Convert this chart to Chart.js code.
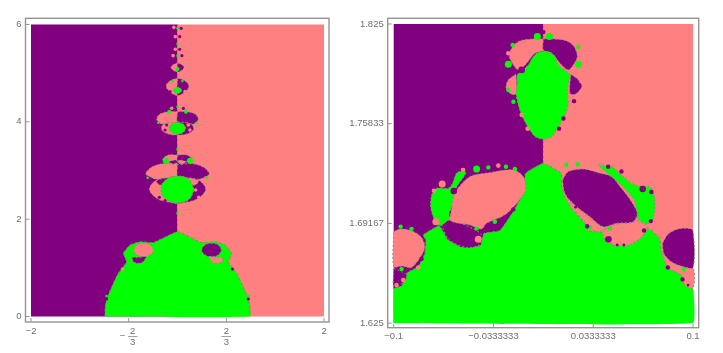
<!DOCTYPE html>
<html>
<head>
<meta charset="utf-8">
<script src="https://cdn.jsdelivr.net/npm/chart.js"></script>
<style>
    body { margin: 0; padding: 0; background: #fff; width: 723px; height: 353px; overflow: hidden; position: relative; }
    .box { position: absolute; top: 0; height: 353px; }
    canvas { filter: blur(0.35px); }
</style>
</head>
<body>
<div class="box" style="left:0;width:340px"><canvas id="leftChart"></canvas></div>
<div class="box" style="left:340px;width:383px"><canvas id="rightChart"></canvas></div>
<script>
// Colours of the three regions
const PURPLE = '#800080';
const PINK = '#ff8080';
const GREEN = '#00ff00';
const EDGE = '#8f8f78';

// Tick labels
const leftXTicks = [-2, -2 / 3, 2 / 3, 2];
const leftXLabels = ['\u22122', ['   2', '\u2212 \u2015', '   3'], ['2', '\u2015', '3'], '2'];
const leftYTicks = [0, 2, 4, 6];
const leftYLabels = ['0', '2', '4', '6'];
const rightXTicks = [-0.1, -0.0333333, 0.0333333, 0.1];
const rightXLabels = ['\u22120.1', '\u22120.0333333', '0.0333333', '0.1'];
const rightYTicks = [1.625, 1.69167, 1.75833, 1.825];
const rightYLabels = ['1.625', '1.69167', '1.75833', '1.825'];

// Left panel regions
const leftPurpleBack = [[-2, 0], [0, 0], [0, 6], [-2, 6]];
const leftPinkBack = [[0, 0], [2, 0], [2, 6], [0, 6]];
const leftCentreLine = [[0, 0], [0, 6]];
const leftBody = [[-0.99, 0], [-0.985, 0.236], [-0.945, 0.44], [-0.876, 0.68], [-0.808, 0.887], [-0.74, 1.02], [-0.694, 1.126], [-0.74, 1.3], [-0.648, 1.47], [-0.512, 1.537], [-0.33, 1.516], [0, 1.74], [0.33, 1.516], [0.512, 1.537], [0.648, 1.47], [0.74, 1.3], [0.694, 1.126], [0.74, 1.02], [0.808, 0.887], [0.876, 0.68], [0.945, 0.44], [0.985, 0.236], [0.99, 0]];
const leftBulbPink = [[-0.603, 1.366], [-0.557, 1.469], [-0.467, 1.504], [-0.375, 1.469], [-0.33, 1.366], [-0.375, 1.264], [-0.467, 1.229], [-0.557, 1.264]];
const leftBulbPurple = [[0.603, 1.366], [0.557, 1.469], [0.467, 1.504], [0.375, 1.469], [0.33, 1.366], [0.375, 1.264], [0.467, 1.229], [0.557, 1.264]];
const leftCrescentPurple = [[-0.625, 1.216], [-0.535, 1.216], [-0.43, 1.229], [-0.467, 1.126], [-0.535, 1.093], [-0.603, 1.126]];
const leftCrescentPink = [[0.625, 1.216], [0.535, 1.216], [0.43, 1.229], [0.467, 1.126], [0.535, 1.093], [0.603, 1.126]];
const g1LobePink = [[0, 3.133], [-0.147, 3.148], [-0.284, 3.113], [-0.375, 3.045], [-0.434, 2.928], [-0.375, 2.872], [-0.307, 2.825], [-0.171, 2.825], [-0.08, 2.872], [0, 2.887]];
const g1LobePurple = [[0, 3.133], [0.147, 3.148], [0.284, 3.113], [0.375, 3.045], [0.434, 2.928], [0.375, 2.872], [0.307, 2.825], [0.171, 2.825], [0.08, 2.872], [0, 2.887]];
const g1RingPink = [[0, 2.872], [-0.262, 2.819], [-0.352, 2.722], [-0.385, 2.613], [-0.339, 2.496], [-0.239, 2.394], [-0.102, 2.346], [0, 2.338]];
const g1RingPurple = [[0, 2.872], [0.262, 2.819], [0.352, 2.722], [0.385, 2.613], [0.339, 2.496], [0.239, 2.394], [0.102, 2.346], [0, 2.338]];
const g1BandPurple = [[-0.294, 2.79], [-0.194, 2.84], [-0.079, 2.84], [-0.126, 2.77], [-0.216, 2.7], [-0.262, 2.722]];
const g1BandPink = [[0.294, 2.79], [0.194, 2.84], [0.079, 2.84], [0.126, 2.77], [0.216, 2.7], [0.262, 2.722]];
const g1Ellipse = [[0.228, 2.61], [0.16, 2.81], [0, 2.885], [-0.16, 2.81], [-0.228, 2.61], [-0.16, 2.41], [0, 2.335], [0.16, 2.41]];
const g1CapPink = [[0, 3.318], [-0.126, 3.318], [-0.202, 3.23], [-0.147, 3.148], [0, 3.133]];
const g1CapPurple = [[0, 3.318], [0.126, 3.318], [0.202, 3.23], [0.147, 3.148], [0, 3.133]];
const g1CapInnerPurple = [[-0.126, 3.18], [-0.034, 3.216], [0, 3.18], [-0.057, 3.133]];
const g1CapInnerPink = [[0.126, 3.18], [0.034, 3.216], [0, 3.18], [0.057, 3.133]];
const g2LobePink = [[0, 4.208], [-0.126, 4.208], [-0.239, 4.16], [-0.284, 4.05], [-0.216, 3.955], [-0.126, 3.982], [0, 4.0]];
const g2LobePurple = [[0, 4.208], [0.126, 4.208], [0.239, 4.16], [0.284, 4.05], [0.216, 3.955], [0.126, 3.982], [0, 4.0]];
const g2RingPink = [[0, 4.0], [-0.126, 3.98], [-0.202, 3.935], [-0.216, 3.832], [-0.126, 3.75], [0, 3.743]];
const g2RingPurple = [[0, 4.0], [0.126, 3.98], [0.202, 3.935], [0.216, 3.832], [0.126, 3.75], [0, 3.743]];
const g2Ellipse = [[0.114, 3.867], [0.08, 3.95], [0, 3.987], [-0.08, 3.95], [-0.114, 3.867], [-0.08, 3.785], [0, 3.747], [0.08, 3.785]];
const g3LobePink = [[0, 4.894], [-0.08, 4.86], [-0.147, 4.777], [-0.147, 4.689], [-0.08, 4.586], [0, 4.55]];
const g3LobePurple = [[0, 4.894], [0.08, 4.86], [0.147, 4.777], [0.147, 4.689], [0.08, 4.586], [0, 4.55]];
const g3Ellipse = [[0.055, 4.648], [0.04, 4.69], [0, 4.71], [-0.04, 4.69], [-0.055, 4.648], [-0.04, 4.605], [0, 4.586], [0.04, 4.605]];
const g4LobePink = [[0, 5.215], [-0.066, 5.168], [-0.089, 5.112], [-0.048, 5.05], [0, 5.03]];
const g4LobePurple = [[0, 5.215], [0.066, 5.168], [0.089, 5.112], [0.048, 5.05], [0, 5.03]];

// Left panel small beads
const leftGreenBig = [[-0.161, 3.2], [0.171, 3.2]];
const leftGreenMid = [[-0.112, 4.208], [0.116, 4.208], [0, 5.085]];
const leftGreenSmall = [[-0.407, 2.852], [0.407, 2.852], [0, 3.435], [0, 2.12], [-0.262, 3.98], [0.262, 3.98], [-0.066, 4.84], [0.066, 4.84], [0, 5.92], [0, 5.36], [0, 4.31], [0, 5.6], [-0.97, 0.42], [0.97, 0.42]];
const leftPinkDots = [[-0.75, 0.975], [-0.08, 4.278], [-0.06, 5.36], [-0.03, 5.49], [-0.03, 5.75], [-0.05, 5.94], [0.102, 4.62], [0.147, 3.935], [0.17, 3.832], [0.248, 2.6], [0.29, 2.45]];
const leftPurpleDots = [[0.75, 0.975], [0.967, 0.36], [-0.967, 0.36], [0.08, 4.278], [0.06, 5.36], [0.03, 5.49], [0.03, 5.75], [0.05, 5.92], [-0.102, 4.62], [-0.147, 3.935], [-0.17, 3.832], [-0.248, 2.449], [-0.17, 2.38]];

// Right panel regions
const rightPurpleBack = [[-0.1, 1.625], [0, 1.625], [0, 1.825], [-0.1, 1.825]];
const rightPinkBack = [[0, 1.625], [0.1, 1.625], [0.1, 1.825], [0, 1.825]];
const rightCentreLine = [[0, 1.7318], [0, 1.825]];
const appleBody = [[0, 1.807], [0.00445, 1.8061], [0.0078, 1.8032], [0.01, 1.7976], [0.0178, 1.7909], [0.0167, 1.7853], [0.016, 1.7786], [0.0167, 1.772], [0.0145, 1.7641], [0.01, 1.7563], [0.0056, 1.7497], [0, 1.7479], [-0.0056, 1.7497], [-0.0111, 1.7575], [-0.0145, 1.7641], [-0.0167, 1.7708], [-0.0183, 1.7786], [-0.0174, 1.7853], [-0.0174, 1.7909], [-0.01, 1.7976], [-0.0067, 1.8032], [-0.0033, 1.8061]];
const appleTopPink = [[0, 1.815], [-0.0067, 1.815], [-0.0156, 1.8137], [-0.0205, 1.8099], [-0.0227, 1.8032], [-0.02, 1.7976], [-0.0167, 1.7943], [-0.0122, 1.7976], [-0.0056, 1.8054], [0, 1.8076]];
const appleTopPurple = [[0, 1.815], [0.0067, 1.815], [0.0156, 1.8137], [0.0205, 1.8099], [0.0227, 1.8032], [0.02, 1.7976], [0.0167, 1.7943], [0.0122, 1.7976], [0.0056, 1.8054], [0, 1.8076]];
const appleSidePink = [[-0.0183, 1.7914], [-0.0234, 1.7876], [-0.0249, 1.782], [-0.0212, 1.778], [-0.0178, 1.7786]];
const appleSidePurple = [[0.0183, 1.7914], [0.0234, 1.7876], [0.0249, 1.782], [0.0212, 1.778], [0.0178, 1.7786]];
const mainGreen = [[-0.1, 1.625], [-0.1, 1.6482], [-0.0947, 1.6498], [-0.091, 1.6587], [-0.0836, 1.6627], [-0.0792, 1.6716], [-0.0785, 1.6805], [-0.0803, 1.6839], [-0.0696, 1.6901], [-0.0636, 1.6805], [-0.0558, 1.6761], [-0.0491, 1.6754], [-0.0417, 1.6772], [-0.0397, 1.685], [-0.0291, 1.6868], [-0.0201, 1.6995], [-0.0134, 1.7118], [-0.0119, 1.7251], [0, 1.7318], [0.0121, 1.7251], [0.0121, 1.7184], [0.0137, 1.7106], [0.0188, 1.7017], [0.0277, 1.6917], [0.0299, 1.6868], [0.04, 1.6854], [0.0411, 1.6805], [0.0478, 1.6765], [0.0567, 1.6783], [0.0645, 1.6845], [0.07, 1.6883], [0.0778, 1.6816], [0.0789, 1.6716], [0.0834, 1.6622], [0.0923, 1.6571], [0.0939, 1.6511], [0.1, 1.6482], [0.1, 1.625]];
const leftLobeGreen = [[-0.0747, 1.7106], [-0.0714, 1.7151], [-0.0636, 1.7151], [-0.0607, 1.7184], [-0.0576, 1.7256], [-0.0518, 1.7256], [-0.0584, 1.7151], [-0.0598, 1.7062], [-0.0629, 1.6984], [-0.0629, 1.6935], [-0.0691, 1.6901], [-0.0736, 1.6961], [-0.0754, 1.7039]];
const edgePink = [[-0.1, 1.6861], [-0.0954, 1.6879], [-0.0881, 1.6868], [-0.0814, 1.6823], [-0.0792, 1.6756], [-0.082, 1.6694], [-0.0881, 1.6622], [-0.0947, 1.6631], [-0.1, 1.6627]];
const edgePurple = [[-0.1, 1.6616], [-0.0947, 1.6593], [-0.0914, 1.6571], [-0.0925, 1.6533], [-0.097, 1.6498], [-0.1, 1.6482]];
const lowerPurple = [[-0.068, 1.6901], [-0.0624, 1.6939], [-0.0446, 1.6868], [-0.0408, 1.6828], [-0.0431, 1.6772], [-0.0502, 1.6754], [-0.0569, 1.6772], [-0.0636, 1.6816]];
const bigPink = [[-0.062, 1.6973], [-0.0591, 1.7118], [-0.0491, 1.7229], [-0.0357, 1.7256], [-0.0201, 1.7274], [-0.0134, 1.7229], [-0.0119, 1.714], [-0.0168, 1.7062], [-0.0257, 1.6973], [-0.038, 1.6917], [-0.0413, 1.6879], [-0.0491, 1.6906], [-0.0591, 1.6923], [-0.0629, 1.6943]];
const bigPurple = [[0.0128, 1.7207], [0.0166, 1.7262], [0.0266, 1.728], [0.0366, 1.7256], [0.0455, 1.7229], [0.0522, 1.7151], [0.0589, 1.7062], [0.0627, 1.6984], [0.06, 1.6928], [0.0489, 1.6917], [0.04, 1.6894], [0.0311, 1.6961], [0.021, 1.7039], [0.0144, 1.7118]];
const rightLobeGreen = [[0.0366, 1.7307], [0.0455, 1.7296], [0.0533, 1.7229], [0.0611, 1.7173], [0.0723, 1.7151], [0.0745, 1.7051], [0.0734, 1.695], [0.07, 1.6912], [0.0633, 1.695], [0.0611, 1.7062], [0.0533, 1.7162], [0.0455, 1.7229]];
const lowerPink = [[0.0627, 1.6935], [0.0694, 1.6894], [0.0656, 1.6823], [0.0567, 1.6772], [0.0478, 1.6772], [0.0415, 1.681], [0.04, 1.6861], [0.0478, 1.6906], [0.0589, 1.6921]];
const stripPink = [[0.0137, 1.7129], [0.021, 1.701], [0.0284, 1.6917], [0.0355, 1.6861], [0.0411, 1.6883], [0.0311, 1.6944], [0.0199, 1.7051]];
const sidePurple = [[0.0796, 1.6783], [0.0834, 1.6845], [0.0901, 1.6879], [0.0967, 1.6883], [0.1, 1.6868], [0.1, 1.6622], [0.0923, 1.6631], [0.0856, 1.666], [0.0805, 1.6716]];
const sidePink = [[0.0796, 1.6716], [0.0834, 1.6622], [0.0923, 1.6571], [0.0939, 1.6511], [0.1, 1.6482], [0.1, 1.6622], [0.0923, 1.6631], [0.0856, 1.666]];

// Right panel beads, grouped by size
const rightGreenBig = [[-0.0234, 1.798], [0.0234, 1.798], [-0.004, 1.8166], [0.004, 1.8166], [-0.0446, 1.728]];
const rightGreenMid = [[-0.0368, 1.7291], [-0.025, 1.7296], [-0.019, 1.728], [-0.0446, 1.6883], [0.0444, 1.6883], [-0.0947, 1.6611], [0.0941, 1.6611], [-0.02, 1.773], [-0.0234, 1.7809], [0.0154, 1.7307], [0.0232, 1.7312], [0.0311, 1.689], [-0.0324, 1.6928], [-0.0954, 1.6895], [-0.0881, 1.688], [0.0234, 1.8095], [-0.0205, 1.811]];
const rightPinkBig = [[-0.0676, 1.718], [-0.0435, 1.681], [-0.0718, 1.6928]];
const rightPinkMid = [[-0.0536, 1.7274], [-0.0301, 1.7303], [-0.0731, 1.7135], [-0.0936, 1.6538], [-0.0234, 1.8054], [-0.0145, 1.7641], [-0.0105, 1.755], [-0.0981, 1.6504], [-0.0836, 1.6622]];
const rightPurpleBig = [[-0.0598, 1.7133], [0.0664, 1.7147], [0.0435, 1.681], [-0.0145, 1.7943], [0.0234, 1.7835]];
const rightPurpleMid = [[-0.0201, 1.701], [-0.0257, 1.6957], [-0.0313, 1.6883], [0.0433, 1.7296], [0.0522, 1.7264], [0.0722, 1.7126], [0.0718, 1.6932], [0.0673, 1.6869], [0, 1.8196], [0.0293, 1.6897], [0.093, 1.6542], [0.0832, 1.6622], [0.0205, 1.7734], [0.0135, 1.7618], [0.0105, 1.755], [-0.0814, 1.6678]];
const rightPurpleSmall = [[0.0215, 1.7025], [0.0172, 1.7091], [0.0146, 1.7146], [0.0493, 1.6772], [0.0538, 1.6772], [0.0967, 1.6504]];

// Turns [x, y] pairs into a closed filled shape
function shape(points, color, smooth = 0.3) {
    const closed = points.concat([points[0]]);
    return {
        data: closed.map(p => ({ x: p[0], y: p[1] })),
        showLine: true,
        fill: 'shape',
        backgroundColor: color,
        borderColor: EDGE,
        borderWidth: 1,
        borderDash: [2, 2],
        pointRadius: 0,
        tension: smooth
    };
}

// Filled shape with no outline
function flat(points, color, smooth = 0) {
    const dataset = shape(points, color, smooth);
    dataset.borderWidth = 0;
    return dataset;
}

// Open dashed line along a boundary
function line(points, smooth = 0) {
    return {
        data: points.map(p => ({ x: p[0], y: p[1] })),
        showLine: true,
        fill: false,
        borderColor: '#7d8f68',
        borderWidth: 1,
        borderDash: [3, 2],
        pointRadius: 0,
        tension: smooth
    };
}

function dots(points, color, radius) {
    return {
        data: points.map(p => ({ x: p[0], y: p[1] })),
        showLine: false,
        backgroundColor: color,
        borderWidth: 0,
        pointRadius: radius
    };
}

// Frame and inward ticks like the original plot
const framePlugin = {
    id: 'frame',
    afterDatasetsDraw(chart) {
        const { ctx, chartArea, scales } = chart;
        ctx.save();
        ctx.strokeStyle = '#949494';
        ctx.lineWidth = 1.4;
        ctx.strokeRect(chartArea.left, chartArea.top, chartArea.right - chartArea.left, chartArea.bottom - chartArea.top);
        ctx.lineWidth = 1;
        ctx.beginPath();
        scales.x.ticks.forEach(tick => {
            const px = scales.x.getPixelForValue(tick.value);
            ctx.moveTo(px, chartArea.bottom);
            ctx.lineTo(px, chartArea.bottom - 4);
        });
        scales.y.ticks.forEach(tick => {
            const py = scales.y.getPixelForValue(tick.value);
            ctx.moveTo(chartArea.left, py);
            ctx.lineTo(chartArea.left + 4, py);
        });
        ctx.stroke();
        ctx.restore();
    }
};

function axis(min, max, values, labels, fitKey, fitSize, pad) {
    return {
        type: 'linear',
        min: min,
        max: max,
        grid: { display: false, drawTicks: false },
        border: { display: false },
        afterBuildTicks: scale => { scale.ticks = values.map(value => ({ value: value })); },
        afterFit: scale => { scale[fitKey] = fitSize; },
        ticks: {
            autoSkip: false,
            maxRotation: 0,
            padding: pad,
            color: '#6e6e6e',
            font: { family: 'Liberation Sans', size: 9.5, lineHeight: 0.62 },
            callback: (value, index) => labels[index]
        }
    };
}

function makeChart(id, layers, x, y, padding) {
    // Later entries sit on top
    layers.forEach((dataset, i) => { dataset.order = layers.length - i; });
    return new Chart(document.getElementById(id).getContext('2d'), {
        type: 'scatter',
        data: { datasets: layers },
        options: {
            responsive: true,
            maintainAspectRatio: false,
            animation: false,
            layout: { padding: padding },
            plugins: { legend: { display: false }, tooltip: { enabled: false } },
            scales: { x: x, y: y }
        },
        plugins: [framePlugin]
    });
}

makeChart('leftChart', [
    flat(leftPurpleBack, PURPLE), flat(leftPinkBack, PINK), line(leftCentreLine),
    shape(g1LobePink, PINK), shape(g1LobePurple, PURPLE), shape(g1RingPink, PINK), shape(g1RingPurple, PURPLE),
    shape(g1BandPurple, PURPLE), shape(g1BandPink, PINK), shape(g1Ellipse, GREEN, 0.4),
    shape(g1CapPink, PINK), shape(g1CapPurple, PURPLE), shape(g1CapInnerPurple, PURPLE), shape(g1CapInnerPink, PINK),
    shape(g2LobePink, PINK), shape(g2LobePurple, PURPLE), shape(g2RingPink, PINK), shape(g2RingPurple, PURPLE), shape(g2Ellipse, GREEN, 0.4),
    shape(g3LobePink, PINK), shape(g3LobePurple, PURPLE), shape(g3Ellipse, GREEN, 0.4),
    shape(g4LobePink, PINK), shape(g4LobePurple, PURPLE),
    flat(leftBody, GREEN, 0.1), line(leftBody, 0.1), shape(leftBulbPink, PINK, 0.4), shape(leftBulbPurple, PURPLE, 0.4),
    shape(leftCrescentPurple, PURPLE), shape(leftCrescentPink, PINK),
    dots(leftGreenBig, GREEN, 3), dots(leftGreenMid, GREEN, 2), dots(leftGreenSmall, GREEN, 1.3),
    dots(leftPinkDots, PINK, 1.8), dots(leftPurpleDots, PURPLE, 1.6)
], axis(-2.075, 2.068, leftXTicks, leftXLabels, 'height', 31, 6), axis(-0.113, 6.127, leftYTicks, leftYLabels, 'width', 25.5, 4),
    { top: 18.3, right: 11 });

makeChart('rightChart', [
    flat(rightPurpleBack, PURPLE), flat(rightPinkBack, PINK), line(rightCentreLine),
    shape(appleTopPink, PINK), shape(appleTopPurple, PURPLE), shape(appleSidePink, PINK), shape(appleSidePurple, PURPLE),
    shape(appleBody, GREEN, 0.2),
    flat(mainGreen, GREEN, 0.1), line(mainGreen.slice(1, -1), 0.1), shape(leftLobeGreen, GREEN), shape(rightLobeGreen, GREEN),
    shape(edgePink, PINK), shape(edgePurple, PURPLE), shape(lowerPurple, PURPLE), shape(bigPink, PINK),
    shape(lowerPink, PINK), shape(stripPink, PINK), shape(bigPurple, PURPLE), shape(sidePink, PINK), shape(sidePurple, PURPLE),
    dots(rightGreenBig, GREEN, 3.5), dots(rightGreenMid, GREEN, 2.2),
    dots(rightPinkBig, PINK, 3.5), dots(rightPinkMid, PINK, 2.3),
    dots(rightPurpleBig, PURPLE, 3.3), dots(rightPurpleMid, PURPLE, 2.2), dots(rightPurpleSmall, PURPLE, 1.4)
], axis(-0.104, 0.1038, rightXTicks, rightXLabels, 'height', 25.3, 6), axis(1.6219, 1.8288, rightYTicks, rightYLabels, 'width', 47.7, 4),
    { top: 18.3, right: 24.3 });
</script>
</body>
</html>
